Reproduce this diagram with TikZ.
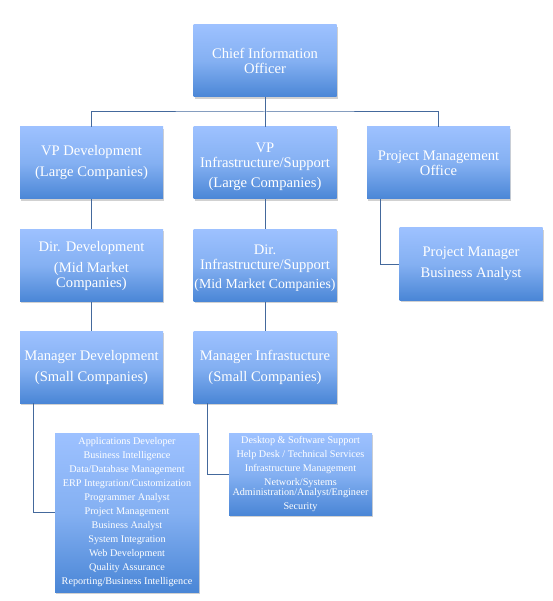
\documentclass[tikz,border=0pt]{standalone}
\usepackage{fontspec}
\setmainfont{Liberation Serif}
\usetikzlibrary{shadows}
\definecolor{boxtop}{HTML}{9DC1FF}
\definecolor{boxmid}{HTML}{84B0F2}
\definecolor{boxbot}{HTML}{4A86D6}
\definecolor{linec}{HTML}{44699C}
\tikzset{
  orgbox/.style={rectangle, inner sep=0pt, minimum width=143pt, minimum height=72pt,
    top color=boxtop, bottom color=boxbot, middle color=boxmid,
    drop shadow={shadow xshift=1pt, shadow yshift=-1.8pt, opacity=0.3, fill=black!60},
    text=white, align=center, font=\fontsize{14.6}{15}\selectfont},
  listbox/.style={orgbox, font=\fontsize{10.2}{14}\selectfont},
  conn/.style={draw=linec, line width=1pt}
}
\begin{document}
\begin{tikzpicture}[x=1pt,y=-1pt]
\useasboundingbox (0,0) rectangle (552,601);
\node[orgbox] (cio) at (265,61) {Chief Information\\Officer};
\node[orgbox] (vpdev) at (91.5,163) {VP Development\\[6pt](Large Companies)};
\node[orgbox] (vpinfra) at (265,163) {\rule{0pt}{17pt}VP\\Infrastructure/Support\\[5pt](Large Companies)};
\node[orgbox] (pmo) at (438.5,163) {Project Management\\Office};
\node[orgbox] (dirdev) at (91.5,265.5) {Dir. Development\\[6pt](Mid Market\\Companies)};
\node[orgbox] (dirinfra) at (265,265.5) {\rule{0pt}{15pt}Dir.\\Infrastructure/Support\\[4pt]{\fontsize{13.8}{15}\selectfont(Mid Market Companies)}};
\node[orgbox] (pm) at (471,264) {Project Manager\\[6pt]Business Analyst};
\node[orgbox] (mgrdev) at (91.5,367) {Manager Development\\[6pt](Small Companies)};
\node[orgbox] (mgrinfra) at (265,367) {Manager Infrastucture\\[6pt](Small Companies)};
\node[listbox, minimum width=144pt, minimum height=159pt] (devlist) at (127,512.5) {Applications Developer\\Business Intelligence\\Data/Database Management\\ERP Integration/Customization\\Programmer Analyst\\Project Management\\Business Analyst\\System Integration\\Web Development\\Quality Assurance\\Reporting/Business Intelligence};
\node[listbox, minimum width=143pt, minimum height=82pt] (infralist) at (300.5,474) {Desktop \& Software Support\\Help Desk / Technical Services\\Infrastructure Management\\Network/Systems\\[-4pt]Administration/Analyst/Engineer\\Security};
\coordinate (bus) at (0,112);
\draw[conn] (cio.south) -- (cio.south |- bus);
\draw[conn] (vpinfra.north) -- (vpinfra.north |- bus);
\draw[conn] (vpdev.north) |- (bus -| cio.south) -| (pmo.north);
\draw[conn] (vpdev.south) -- (dirdev.north);
\draw[conn] (dirdev.south) -- (mgrdev.north);
\draw[conn] (vpinfra.south) -- (dirinfra.north);
\draw[conn] (dirinfra.south) -- (mgrinfra.north);
\draw[conn] ([xshift=14pt]pmo.south west) |- (pm.west);
\draw[conn] ([xshift=14pt]mgrdev.south west) |- (devlist.west);
\draw[conn] ([xshift=14.5pt]mgrinfra.south west) |- (infralist.west);
\end{tikzpicture}
\end{document}
